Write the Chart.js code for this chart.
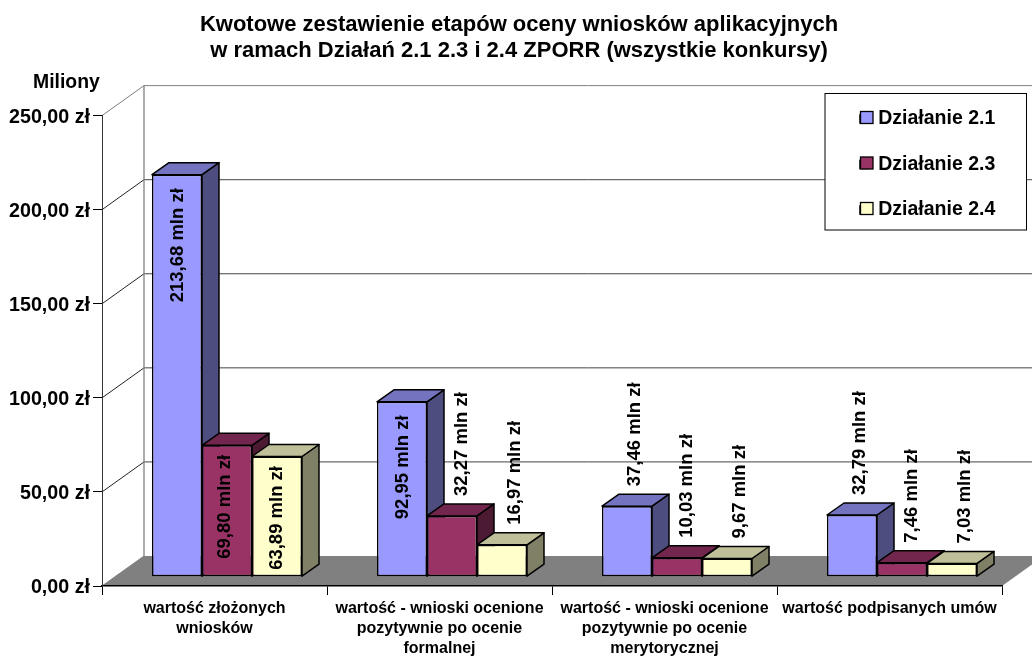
<!DOCTYPE html>
<html><head><meta charset="utf-8">
<style>html,body{margin:0;padding:0;background:#fff}canvas{display:block}</style>
<script src="https://cdn.jsdelivr.net/npm/chart.js@4"></script></head>
<body><canvas id="c" width="1032" height="656"></canvas>
<script>
const categories = [
  ["wartość złożonych","wniosków"],
  ["wartość - wnioski ocenione","pozytywnie po ocenie","formalnej"],
  ["wartość - wnioski ocenione","pozytywnie po ocenie","merytorycznej"],
  ["wartość podpisanych umów"]
];
const dzialanie21 = [213.68, 92.95, 37.46, 32.79];
const dzialanie23 = [69.80, 32.27, 10.03, 7.46];
const dzialanie24 = [63.89, 16.97, 9.67, 7.03];
const titleLines = ["Kwotowe zestawienie etapów oceny wniosków aplikacyjnych","w ramach Działań 2.1 2.3 i 2.4 ZPORR (wszystkie konkursy)"];
const seriesNames = ["Działanie 2.1","Działanie 2.3","Działanie 2.4"];
const unitLabel = "Miliony";

const FONT = '"Liberation Sans", Arial, sans-serif';
const WALL = {dx:42, dy:-30}, OFFSET = {dx:12.5, dy:-9.3}, BAR = {dx:17, dy:-12};
const SHADES = [
  {top:'#7373BF', side:'#4D4D80'},
  {top:'#73264D', side:'#4D1A33'},
  {top:'#BFBF99', side:'#808066'}
];
const INSIDE = {dx:[0.5,-2,0], top:[13.5,9.5,9.5]};
const OUTSIDE = {dx:[7.5,10,12.5], gap:20};
const fmt = v => v.toFixed(2).replace('.', ',');

function poly(ctx, pts, fill, stroke, lw){
  ctx.beginPath();
  pts.forEach((p,i)=> i?ctx.lineTo(p[0],p[1]):ctx.moveTo(p[0],p[1]));
  ctx.closePath();
  if(fill){ctx.fillStyle=fill;ctx.fill();}
  if(stroke){ctx.strokeStyle=stroke;ctx.lineWidth=lw||1;ctx.lineJoin='round';ctx.stroke();}
}
function line(ctx, pts, color, lw){
  ctx.beginPath();
  pts.forEach((p,i)=> i?ctx.lineTo(p[0],p[1]):ctx.moveTo(p[0],p[1]));
  ctx.strokeStyle=color;ctx.lineWidth=lw||1;ctx.stroke();
}

const plugin3d = {
  id:'plugin3d',
  afterLayout(chart){
    const t = chart.titleBlock;
    t.left = 3; t.right = 1035;
    const l = chart.legend, p = l.options.labels.padding;
    l.left = 860 - p; l.right = 1026; l.top = 109.25 - p;
  },
  beforeDraw(chart){
    const {ctx, chartArea:a, scales:{y}} = chart;
    const y0 = y.getPixelForValue(0);
    ctx.save();
    ctx.fillStyle='#fff';ctx.fillRect(0,0,chart.width,chart.height);
    poly(ctx,[[a.left,y0],[a.left+WALL.dx,y0+WALL.dy],[a.right+WALL.dx,y0+WALL.dy],[a.right,y0]],'#808080');
    y.ticks.forEach(t=>{
      if(t.value===0) return;
      const p = y.getPixelForValue(t.value);
      const top = t.value===y.max;
      line(ctx,[[a.left,p],[a.left+WALL.dx,p+WALL.dy]], top?'#808080':'#222',1);
      line(ctx,[[a.left+WALL.dx,p+WALL.dy],[a.right+WALL.dx,p+WALL.dy]], top?'#808080':'#444',1);
    });
    line(ctx,[[a.left,y0],[a.left+WALL.dx,y0+WALL.dy]],'#808080',1);
    line(ctx,[[a.left+WALL.dx,y.top+WALL.dy],[a.left+WALL.dx,y0+WALL.dy]],'#808080',1.3);
    ctx.fillStyle='#fff';ctx.fillRect(825,93.5,201.5,136.5);
    ctx.strokeStyle='#000';ctx.lineWidth=1;ctx.strokeRect(825,93.5,201.5,136.5);
    ctx.restore();
  },
  // datasets are painted left to right, so each bar covers its left neighbour's side face
  beforeDatasetDraw(){ return false; },
  beforeDatasetsDraw(chart){
    const ctx = chart.ctx;
    chart.data.datasets.forEach((ds,i)=>{
      const meta = chart.getDatasetMeta(i), s = SHADES[i];
      ctx.save();
      ctx.translate(OFFSET.dx,OFFSET.dy);
      meta.data.forEach(b=>{
        const {x,y,base,width} = b.getProps(['x','y','base','width'],true);
        const l=x-width/2,r=x+width/2;
        poly(ctx,[[r,y],[r+BAR.dx,y+BAR.dy],[r+BAR.dx,base+BAR.dy],[r,base]],s.side,'#000',1.5);
        poly(ctx,[[l,y],[l+BAR.dx,y+BAR.dy],[r+BAR.dx,y+BAR.dy],[r,y]],s.top,'#000',1.5);
      });
      meta.controller.draw();
      ctx.restore();
    });
  },
  afterDatasetsDraw(chart){
    const ctx = chart.ctx;
    ctx.save();
    ctx.fillStyle='#000';ctx.font='bold 19.4px '+FONT;ctx.textAlign='left';ctx.textBaseline='middle';
    ctx.fillText(unitLabel,33,83);
    chart.data.datasets.forEach((ds,i)=>{
      // legend swatches, sized as in the reference
      const yc = 117.5 + i*45.5;
      ctx.fillStyle=ds.backgroundColor;ctx.strokeStyle='#000';ctx.lineWidth=1.3;
      ctx.fillRect(860.5,yc-6,12.5,12);ctx.strokeRect(860.5,yc-6,12.5,12);
      ctx.fillStyle='#000';
      chart.getDatasetMeta(i).data.forEach((b,j)=>{
        const {x,y} = b.getProps(['x','y'],true);
        const v = ds.data[j];
        const inside = v>50;
        const cx = x+OFFSET.dx+(inside?INSIDE.dx[i]:OUTSIDE.dx[i]);
        const ty = y+OFFSET.dy+(inside?INSIDE.top[i]:-OUTSIDE.gap);
        ctx.save();
        ctx.translate(cx, ty);
        ctx.rotate(-Math.PI/2);
        ctx.textAlign = inside?'right':'left';
        ctx.textBaseline='middle';
        ctx.font='bold 18.5px '+FONT;
        ctx.fillText(fmt(v)+' mln zł',0,0);
        ctx.restore();
      });
    });
    ctx.restore();
  }
};

const series = [dzialanie21,dzialanie23,dzialanie24];
const colors = ['#9999FF','#993366','#FFFFCC'];
new Chart(document.getElementById('c'),{
  type:'bar',
  plugins:[plugin3d],
  data:{labels:categories,datasets:series.map((d,i)=>({
    label:seriesNames[i],data:d,backgroundColor:colors[i],borderColor:'#000',borderWidth:1.5,
    borderSkipped:false,clip:false,categoryPercentage:2/3,barPercentage:1
  }))},
  options:{
    responsive:false,animation:false,
    layout:{padding:{left:0,right:30,top:0,bottom:0}},
    plugins:{
      tooltip:{enabled:false},
      title:{display:true,text:titleLines,color:'#000',font:{family:FONT,size:22,weight:'bold',lineHeight:1.18},padding:{top:12,bottom:51.7}},
      legend:{display:true,position:'chartArea',align:'start',labels:{color:'#000',font:{family:FONT,size:19.5,weight:'bold'},boxWidth:8.5,boxHeight:8,padding:26}}
    },
    scales:{
      x:{grid:{display:true,drawOnChartArea:false,tickLength:9,color:'#000',offset:true},border:{display:true,color:'#000',width:1.5},
        afterFit(s){s.height=70;},
        ticks:{color:'#000',padding:4,maxRotation:0,minRotation:0,autoSkip:false,font:{family:FONT,size:16,weight:'bold',lineHeight:1.25}}},
      y:{min:0,max:250,grid:{display:true,drawOnChartArea:false,tickLength:9,color:'#000'},border:{display:true,color:'#333',width:1},
        afterFit(s){s.width=102;},
        ticks:{stepSize:50,color:'#000',padding:3,labelOffset:1.5,font:{family:FONT,size:19.7,weight:'bold'},callback:v=>fmt(v)+' zł'}}
    }
  }
});
</script></body></html>
